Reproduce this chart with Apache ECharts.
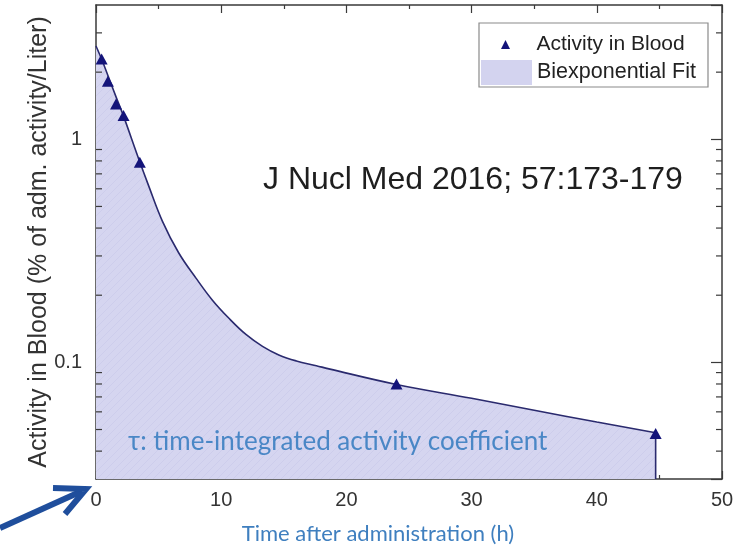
<!DOCTYPE html>
<html>
<head>
<meta charset="utf-8">
<script src="https://cdn.jsdelivr.net/npm/echarts@6/dist/echarts.min.js"></script>
<style>
  html, body { margin: 0; padding: 0; background: #fff; }
  #chart { width: 748px; height: 550px; }
</style>
</head>
<body>
<div id="chart"></div>
<script>
// measured points (h, % of adm. activity / L)
var sampleTime = [0.45, 0.95, 1.6, 2.2, 3.5, 24, 44.7];
var sampleActivity = [2.29, 1.82, 1.44, 1.28, 0.79, 0.080, 0.048];

// biexponential fit
var fitTime = [0, 0.5, 1, 1.6, 2.2, 3.4, 4.2, 5.3, 6.6, 8, 9.3, 10.6, 12, 13.3, 14.6, 16, 17.6, 18.6, 24, 30, 35, 40, 44.7];
var fitActivity = [2.62, 2.25, 1.9, 1.55, 1.27, 0.82, 0.62, 0.43, 0.31, 0.238, 0.19, 0.158, 0.133, 0.118, 0.108, 0.1015, 0.0966, 0.0935, 0.0796, 0.069, 0.061, 0.054, 0.0484];

// end of the shaded area (vertical drop at last sample)
var dropTime = [44.7, 44.7];
var dropActivity = [0.0484, 0.03];

var xTicks = [0, 10, 20, 30, 40, 50];
var yTickLabels = ['0.1', '1'];
var yMinorTicks = [0.04, 0.05, 0.06, 0.07, 0.08, 0.09, 0.2, 0.3, 0.4, 0.5, 0.6, 0.7, 0.8, 0.9, 2, 3];

var AXIS_COLOR = '#3a3a3a';
var BLUE_TEXT = '#3f7fbf';

//hatched lavender fill
function makeHatch() {
  var c = document.createElement('canvas');
  c.width = 8; c.height = 8;
  var ctx = c.getContext('2d');
  ctx.fillStyle = '#d5d5f0';
  ctx.fillRect(0, 0, 8, 8);
  ctx.strokeStyle = '#cdcdec';
  ctx.lineWidth = 1;
  ctx.beginPath();
  ctx.moveTo(0, 8); ctx.lineTo(8, 0);
  ctx.moveTo(-4, 4); ctx.lineTo(4, -4);
  ctx.moveTo(4, 12); ctx.lineTo(12, 4);
  ctx.stroke();
  return c;
}

function zip(a, b) {
  return a.map(function (v, i) { return [v, b[i]]; });
}

var chart = echarts.init(document.getElementById('chart'), null, { renderer: 'canvas' });

var logAxisBase = {
  type: 'log',
  logBase: 10,
  min: 0.03,
  max: 4,
  axisLine: { show: true, onZero: false, lineStyle: { color: AXIS_COLOR, width: 1.5 } },
  axisTick: { show: true, inside: true, length: 11, lineStyle: { color: AXIS_COLOR, width: 1.2 } },
  minorTick: { show: false },
  splitLine: { show: false }
};

var option = {
  backgroundColor: '#ffffff',
  animation: false,
  grid: { left: 96, right: 26, top: 5, bottom: 69 },
  legend: [{
    left: 501, top: 34, padding: 0,
    itemWidth: 10, itemHeight: 9,
    selectedMode: false,
    textStyle: { fontFamily: 'Liberation Sans, Arial', fontSize: 21, color: '#222', padding: [0, 0, 0, 21] },
    data: [{ name: 'Activity in Blood', icon: 'path://M0,10L5,0L10,10Z', itemStyle: { color: '#14147a' } }]
  }, {
    left: 481, top: 60, padding: 0,
    itemWidth: 51, itemHeight: 25,
    selectedMode: false,
    textStyle: { fontFamily: 'Liberation Sans, Arial', fontSize: 21.5, color: '#222' },
    data: [{ name: 'Biexponential Fit', icon: 'rect', itemStyle: { color: '#d3d3ef' } }]
  }],
  xAxis: [{
    type: 'value',
    min: 0, max: 50, interval: 10,
    name: 'Time after administration (h)',
    nameLocation: 'middle',
    nameGap: 44,
    nameMoveOverlap: false,
    nameTextStyle: { fontFamily: 'Lato', fontSize: 22, color: BLUE_TEXT, padding: [0, 62, 0, 0] },
    axisLine: { show: true, onZero: false, lineStyle: { color: AXIS_COLOR, width: 1.5 } },
    axisTick: { show: true, inside: true, length: 8, lineStyle: { color: AXIS_COLOR, width: 1.2 } },
    minorTick: { show: true, splitNumber: 2, length: 4, lineStyle: { color: AXIS_COLOR, width: 1.2 } },
    splitLine: { show: false },
    axisLabel: {
      margin: 11, fontFamily: 'Liberation Sans, Arial', fontSize: 20, color: '#333',
      formatter: function (v) { return xTicks.indexOf(v) >= 0 ? String(v) : ''; }
    }
  }, {
    type: 'value',
    position: 'top',
    min: 0, max: 50, interval: 10,
    axisLine: { show: true, onZero: false, lineStyle: { color: AXIS_COLOR, width: 1.5 } },
    axisTick: { show: true, inside: true, length: 8, lineStyle: { color: AXIS_COLOR, width: 1.2 } },
    minorTick: { show: true, splitNumber: 2, length: 4, lineStyle: { color: AXIS_COLOR, width: 1.2 } },
    splitLine: { show: false },
    axisLabel: { show: false }
  }],
  yAxis: [Object.assign({}, logAxisBase, {
    position: 'left',
    name: 'Activity in Blood (% of adm. activity/Liter)',
    nameLocation: 'middle',
    nameGap: 44,
    nameMoveOverlap: false,
    nameTextStyle: { fontFamily: 'Liberation Sans, Arial', fontSize: 25, color: '#333' },
    axisLabel: {
      margin: 14, fontFamily: 'Liberation Sans, Arial', fontSize: 20, color: '#333',
      showMinLabel: false, showMaxLabel: false,
      formatter: function (v) {
        var s = String(parseFloat(v.toPrecision(6)));
        return yTickLabels.indexOf(s) >= 0 ? s : '';
      }
    }
  }), Object.assign({}, logAxisBase, {
    position: 'right',
    axisLabel: { show: false }
  })],
  series: [{
    name: 'Biexponential Fit',
    type: 'line',
    xAxisIndex: 0, yAxisIndex: 0,
    data: zip(fitTime, fitActivity),
    smooth: 0.4,
    showSymbol: false,
    symbol: 'none',
    lineStyle: { color: '#2a2a6e', width: 1.6 },
    itemStyle: { color: '#2a2a6e' },
    areaStyle: { color: { image: makeHatch(), repeat: 'repeat' }, opacity: 1, origin: 'start' },
    z: 2
  }, {
    name: 'drop',
    type: 'line',
    data: zip(dropTime, dropActivity),
    symbol: 'none',
    lineStyle: { color: '#2a2a6e', width: 1.6 },
    silent: true,
    z: 3
  }, {
    name: 'Activity in Blood',
    type: 'scatter',
    data: zip(sampleTime, sampleActivity),
    symbol: 'triangle',
    symbolSize: [12, 11],
    itemStyle: { color: '#14147a', opacity: 1 },
    z: 5
  }, {
    name: 'yMinor',
    type: 'custom',
    silent: true,
    clip: false,
    data: yMinorTicks.map(function (v) { return [0, v]; }),
    encode: { x: 0, y: 1 },
    renderItem: function (params, api) {
      var v = api.value(1);
      var l = api.coord([0, v]);
      var r = api.coord([50, v]);
      var st = { stroke: AXIS_COLOR, lineWidth: 1.2 };
      return {
        type: 'group',
        children: [
          { type: 'line', shape: { x1: l[0], y1: l[1], x2: l[0] + 6, y2: l[1] }, style: st },
          { type: 'line', shape: { x1: r[0] - 6, y1: r[1], x2: r[0], y2: r[1] }, style: st }
        ]
      };
    },
    z: 6
  }],
  graphic: [{
    type: 'rect',
    shape: { x: 479, y: 23, width: 229, height: 64 },
    style: { fill: 'rgba(0,0,0,0)', stroke: '#8a8a8a', lineWidth: 1.2 },
    z: 10
  }, {
    type: 'text',
    x: 263, y: 180,
    style: {
      text: 'J Nucl Med 2016; 57:173-179',
      fontFamily: 'Liberation Sans, Arial', fontSize: 32, fill: '#1e1e1e',
      verticalAlign: 'middle'
    },
    z: 10
  }, {
    type: 'text',
    x: 128, y: 442,
    style: {
      text: 'τ: time-integrated activity coefficient',
      fontFamily: 'Lato', fontSize: 26, fill: '#4a87c6',
      verticalAlign: 'middle'
    },
    z: 10
  }, {
    type: 'polyline',
    shape: { points: [[0, 528], [82, 491]] },
    style: { stroke: '#1f4e9c', lineWidth: 6, fill: null },
    z: 10
  }, {
    type: 'polyline',
    shape: { points: [[53, 488], [86, 489], [65, 514]] },
    style: { stroke: '#1f4e9c', lineWidth: 6, fill: null, lineJoin: 'miter' },
    z: 10
  }]
};

chart.setOption(option);
</script>
</body>
</html>
